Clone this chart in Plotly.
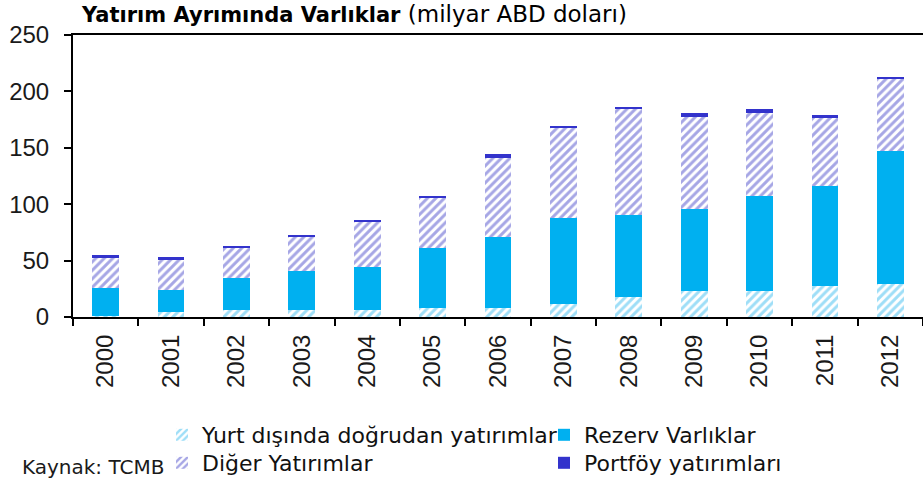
import plotly.graph_objects as go

years = ["2000", "2001", "2002", "2003", "2004", "2005", "2006",
         "2007", "2008", "2009", "2010", "2011", "2012"]
fdi = [0.5, 4.7, 6.2, 6.2, 6.2, 8.0, 8.0, 11.2, 17.7, 22.8, 22.8, 27.7, 29.5]
reserves = [25.5, 19.5, 28.6, 34.6, 38.1, 53.0, 63.2, 76.3, 73.0, 72.9, 84.7, 88.2, 117.9]
other = [27.0, 27.2, 27.0, 30.4, 40.5, 45.0, 69.8, 80.1, 94.0, 81.9, 73.4, 60.2, 63.6]
portfolio = [1.6, 1.6, 1.1, 1.5, 1.5, 1.5, 3.5, 1.7, 1.5, 3.3, 3.5, 3.3, 1.8]

names = ["Yurt dışında doğrudan yatırımlar", "Rezerv Varlıklar",
         "Diğer Yatırımlar", "Portföy yatırımları"]

NUMFONT = "Liberation Sans"
TXTFONT = "DejaVu Sans"

L, T, B = 73, 35, 168
PW = 850
PH = 282

fig = go.Figure()
fig.add_trace(go.Bar(
    x=years, y=fdi, name=names[0], legend="legend",
    marker=dict(color="white", line=dict(width=0),
                pattern=dict(shape="/", fgcolor="#3DBDF0", bgcolor="white",
                             size=6, solidity=0.5)),
))
fig.add_trace(go.Bar(
    x=years, y=reserves, name=names[1], legend="legend2",
    marker=dict(color="#00B0F0", line=dict(width=0)),
))
fig.add_trace(go.Bar(
    x=years, y=other, name=names[2], legend="legend3",
    marker=dict(color="white", line=dict(width=0),
                pattern=dict(shape="/", fgcolor="#4E4ECC", bgcolor="white",
                             size=6, solidity=0.5)),
))
fig.add_trace(go.Bar(
    x=years, y=portfolio, name=names[3], legend="legend4",
    marker=dict(color="#3333CC", line=dict(width=0)),
))


def leg(x, y):
    return dict(x=x / PW, y=y / PH, xanchor="left", yanchor="top",
                orientation="v",
                font=dict(size=22, family=TXTFONT, color="#111"),
                itemwidth=30, bgcolor="rgba(0,0,0,0)")


fig.update_layout(
    width=923, height=485,
    barmode="stack", bargap=0.59,
    plot_bgcolor="white", paper_bgcolor="white",
    margin=dict(l=L, r=0, t=T, b=B, autoexpand=False),
    font=dict(family=NUMFONT, size=24, color="#1a1a1a"),
    showlegend=True,
    legend=leg(89, -97),
    legend2=leg(471, -97),
    legend3=leg(89, -125),
    legend4=leg(471, -125),
    annotations=[
        dict(text="<b>Yatırım Ayrımında Varlıklar</b>"
                  "<span style='font-size:23px'> (milyar ABD doları)</span>",
             xref="paper", yref="paper", x=6 / PW, y=1.0, yshift=21,
             xanchor="left", yanchor="middle", showarrow=False,
             font=dict(size=21, family=TXTFONT, color="#000")),
        dict(text="Kaynak: TCMB", xref="paper", yref="paper",
             x=-53 / PW, y=0, yshift=-150,
             xanchor="left", yanchor="middle", showarrow=False,
             font=dict(size=20, family=TXTFONT, color="#1a1a1a")),
    ],
)

fig.update_xaxes(
    type="category", showline=True, linecolor="black", linewidth=2,
    mirror=True, ticks="outside", tickson="boundaries", ticklen=7,
    tickcolor="black", tickwidth=2, tickangle=-90, ticklabelstandoff=6,
    tickfont=dict(size=24, family=NUMFONT), showgrid=False,
)
fig.update_yaxes(
    range=[0, 250], dtick=50, showline=True, linecolor="black", linewidth=2,
    ticks="outside", ticklen=7, tickcolor="black", tickwidth=2,
    showgrid=False, zeroline=False, ticklabelstandoff=10,
    tickfont=dict(size=24, family=NUMFONT),
)

fig.write_html("out.html", config={"displayModeBar": False},
               post_script="document.body.style.margin='0';")
